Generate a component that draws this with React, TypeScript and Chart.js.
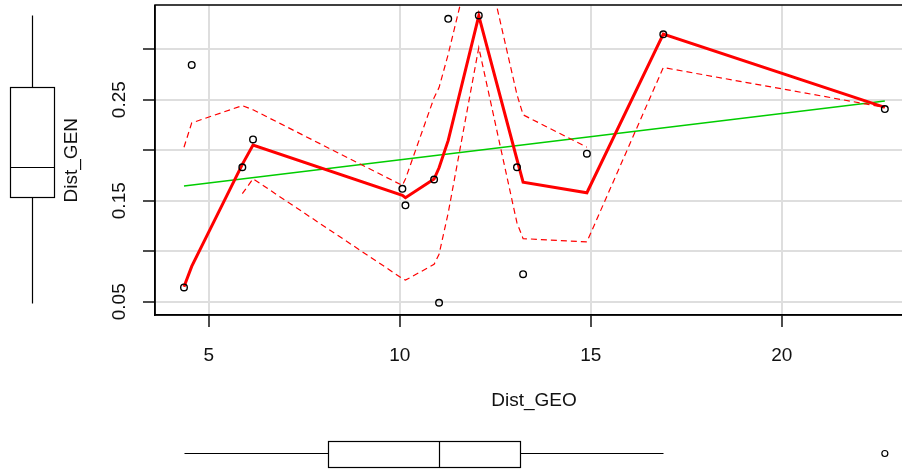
import React, { useEffect, useRef } from 'react';
import { Chart, registerables } from 'chart.js';

Chart.register(...registerables);

// Scatter data (Dist_GEO, Dist_GEN)
const geoX = [4.353, 4.555, 5.88, 6.16, 10.07, 10.15, 10.9, 11.03, 11.27, 12.07, 13.07, 13.23, 14.9, 16.9, 22.7];
const genY = [0.0642, 0.2844, 0.1831, 0.2107, 0.1618, 0.1454, 0.171, 0.049, 0.33, 0.3334, 0.1831, 0.0773, 0.1966, 0.3147, 0.2407];

// Linear fit (green)
const fitX = [4.353, 22.7];
const fitY = [0.1645, 0.2487];

// Smoother (red solid)
const smoothX = [4.353, 4.555, 5.88, 6.16, 10.07, 10.15, 10.9, 11.03, 11.27, 12.07, 13.07, 13.23, 14.9, 16.9, 22.7];
const smoothY = [0.0648, 0.085, 0.186, 0.205, 0.1553, 0.153, 0.1715, 0.1826, 0.2097, 0.3329, 0.1908, 0.1684, 0.1579, 0.3148, 0.2424];

// Spread bands (red dashed)
const upperX = [4.353, 4.555, 5.88, 6.16, 10.07, 10.15, 10.9, 11.03, 11.27, 12.07, 13.07, 13.23, 14.9];
const upperY = [0.2029, 0.227, 0.2441, 0.24, 0.1651, 0.1715, 0.252, 0.262, 0.295, 0.42, 0.255, 0.235, 0.203];
const lowerX = [5.88, 6.16, 10.07, 10.15, 10.9, 11.03, 11.27, 12.07, 13.07, 13.23, 14.9, 16.9, 22.7];
const lowerY = [0.157, 0.1717, 0.073, 0.0714, 0.087, 0.097, 0.138, 0.3016, 0.128, 0.1125, 0.1092, 0.2818, 0.2424];

// Axis ticks
const xTicks = [5, 10, 15, 20];
const xTickLabels = ['5', '10', '15', '20'];
const yTicks = [0.05, 0.1, 0.15, 0.2, 0.25, 0.3];
const yTickLabels = ['0.05', '', '0.15', '', '0.25', ''];

// Marginal boxplot stats: [low whisker, lower hinge, median, upper hinge, high whisker]
const xBoxStats = [4.353, 8.115, 11.03, 13.15, 16.9];
const xBoxOutliers = [22.7];
const yBoxStats = [0.049, 0.1536, 0.1831, 0.2626, 0.3334];
const yBoxOutliers: number[] = [];

const FONT = { family: "'Liberation Sans', Arial, sans-serif", size: 19 };
const TEXT = '#111';

const pts = (xs: number[], ys: number[]) => xs.map((x, i) => ({ x, y: ys[i] }));

const framePlugin = {
  id: 'frameAndBoxes',
  afterDraw(chart: any) {
    const { ctx, chartArea: a, scales } = chart;
    const xs = scales.x;
    const ys = scales.y;
    ctx.save();
    ctx.strokeStyle = '#000';
    ctx.lineWidth = 1.5;
    // plot frame
    ctx.strokeRect(Math.round(a.left), Math.round(a.top), Math.round(a.right - a.left), Math.round(a.bottom - a.top));

    ctx.lineWidth = 1.2;
    // vertical boxplot (Dist_GEN) in left margin
    const yp = yBoxStats.map((v) => Math.round(ys.getPixelForValue(v)) + 0.5);
    const bl = 10.5, br = 54.5, bm = 32.5;
    ctx.beginPath();
    ctx.moveTo(bm, yp[0]); ctx.lineTo(bm, yp[1]);
    ctx.moveTo(bm, yp[3]); ctx.lineTo(bm, yp[4]);
    ctx.stroke();
    ctx.strokeRect(bl, yp[3], br - bl, yp[1] - yp[3]);
    ctx.beginPath();
    ctx.moveTo(bl, yp[2]); ctx.lineTo(br, yp[2]);
    ctx.stroke();
    yBoxOutliers.forEach((v) => {
      ctx.beginPath();
      ctx.arc(bm, ys.getPixelForValue(v), 3, 0, Math.PI * 2);
      ctx.stroke();
    });

    // horizontal boxplot (Dist_GEO) below
    const xp = xBoxStats.map((v) => Math.round(xs.getPixelForValue(v)) + 0.5);
    const bt = 441.5, bb = 467.5, bmy = 453.5;
    ctx.beginPath();
    ctx.moveTo(xp[0], bmy); ctx.lineTo(xp[1], bmy);
    ctx.moveTo(xp[3], bmy); ctx.lineTo(xp[4], bmy);
    ctx.stroke();
    ctx.strokeRect(xp[1], bt, xp[3] - xp[1], bb - bt);
    ctx.beginPath();
    ctx.moveTo(xp[2], bt); ctx.lineTo(xp[2], bb);
    ctx.stroke();
    xBoxOutliers.forEach((v) => {
      ctx.beginPath();
      ctx.arc(xs.getPixelForValue(v), bmy, 3, 0, Math.PI * 2);
      ctx.stroke();
    });
    ctx.restore();
  },
};

export default function App() {
  const ref = useRef<HTMLCanvasElement | null>(null);

  useEffect(() => {
    if (!ref.current) return;
    const chart = new Chart(ref.current, {
      type: 'scatter',
      data: {
        datasets: [
          {
            label: 'points',
            data: pts(geoX, genY),
            pointStyle: 'circle',
            pointRadius: 3.3,
            pointBorderWidth: 1.4,
            pointBorderColor: '#000',
            pointBackgroundColor: 'rgba(0,0,0,0)',
            showLine: false,
          },
          {
            label: 'smooth',
            data: pts(smoothX, smoothY),
            showLine: true,
            borderColor: '#ff0000',
            borderWidth: 3,
            pointRadius: 0,
            tension: 0,
          },
          {
            label: 'upper',
            data: pts(upperX, upperY),
            showLine: true,
            borderColor: '#ff0000',
            borderWidth: 1.2,
            borderDash: [6, 4],
            pointRadius: 0,
          },
          {
            label: 'lower',
            data: pts(lowerX, lowerY),
            showLine: true,
            borderColor: '#ff0000',
            borderWidth: 1.2,
            borderDash: [6, 4],
            pointRadius: 0,
          },
          {
            label: 'fit',
            data: pts(fitX, fitY),
            showLine: true,
            borderColor: '#00cd00',
            borderWidth: 1.6,
            pointRadius: 0,
          },
        ],
      },
      options: {
        responsive: false,
        animation: false,
        devicePixelRatio: 1,
        layout: { padding: { left: 0, top: 4, right: 7, bottom: 59.6 } },
        plugins: { legend: { display: false }, tooltip: { enabled: false } },
        scales: {
          x: {
            type: 'linear',
            min: 3.594,
            max: 23.437,
            afterBuildTicks: (s: any) => {
              s.ticks = xTicks.map((v) => ({ value: v }));
            },
            afterFit: (s: any) => {
              s.height = 97.4;
              s.paddingLeft = 0;
              s.paddingRight = 0;
            },
            grid: { color: '#dedede', lineWidth: 2, tickLength: 12, tickColor: '#000', tickWidth: 1.4 },
            border: { display: true, color: '#000', width: 1.5 },
            ticks: {
              font: FONT,
              color: TEXT,
              padding: 17,
              maxRotation: 0,
              autoSkip: false,
              callback: (_v: any, i: number) => xTickLabels[i],
            },
            title: { display: true, text: 'Dist_GEO', font: FONT, color: TEXT, padding: { top: 0, bottom: 0 } },
          },
          y: {
            type: 'linear',
            min: 0.0369,
            max: 0.3433,
            afterBuildTicks: (s: any) => {
              s.ticks = yTicks.map((v) => ({ value: v }));
            },
            afterFit: (s: any) => {
              s.width = 155;
              s.paddingTop = 0;
              s.paddingBottom = 0;
            },
            grid: { color: '#dedede', lineWidth: 2, tickLength: 12, tickColor: '#000', tickWidth: 1.4 },
            border: { display: true, color: '#000', width: 1.5 },
            ticks: {
              font: FONT,
              color: TEXT,
              padding: 4.5,
              minRotation: 90,
              maxRotation: 90,
              crossAlign: 'center',
              autoSkip: false,
              callback: (_v: any, i: number) => yTickLabels[i],
            },
            title: { display: true, text: 'Dist_GEN', font: FONT, color: TEXT, padding: { top: 60.6, bottom: 0 } },
          },
        },
      },
      plugins: [framePlugin],
    } as any);
    return () => chart.destroy();
  }, []);

  return (
    <div style={{ position: 'fixed', left: 0, top: 0, width: 902, height: 472, overflow: 'hidden', background: '#fff' }}>
      <canvas ref={ref} width={920} height={472} style={{ display: 'block' }} />
    </div>
  );
}
